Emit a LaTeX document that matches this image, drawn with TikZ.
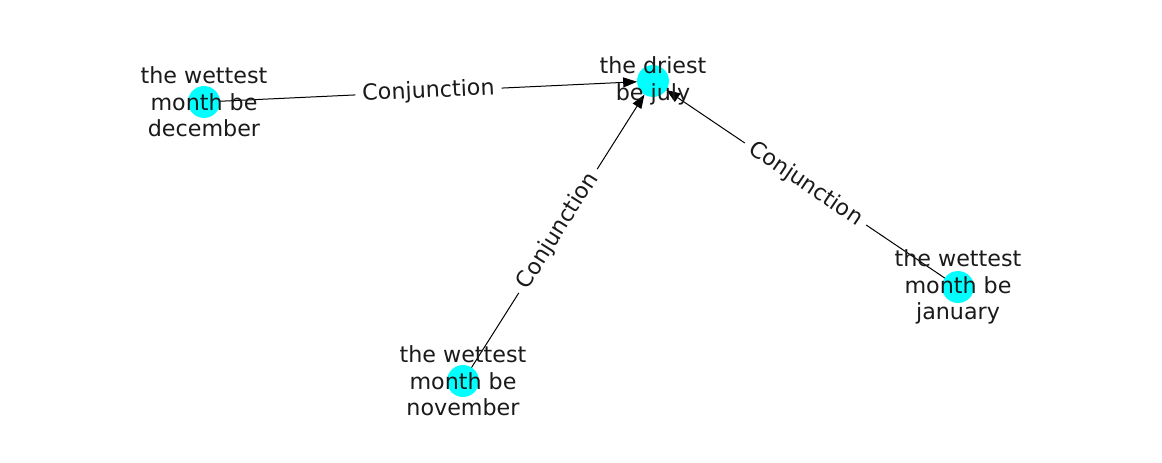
\documentclass[tikz,border=0pt]{standalone}
\usepackage{fontspec}
\setmainfont{DejaVu Sans}
\usetikzlibrary{arrows.meta}
\definecolor{nodecyan}{HTML}{00FFFF}
\definecolor{txt}{HTML}{1A1A1A}
\begin{document}
\begin{tikzpicture}[x=0.72pt,y=-0.72pt,
  dot/.style={circle,fill=nodecyan,draw=none,minimum size=23pt,inner sep=0pt,outer sep=0pt},
  lbl/.style={align=center,text=txt,font=\fontsize{16}{19}\selectfont,inner sep=0pt},
  edge/.style={draw=black,line width=0.72pt,-{Triangle[length=10pt,width=7.2pt]}},
  elabel/.style={midway,sloped,fill=white,text=txt,font=\fontsize{16}{19}\selectfont,inner xsep=5pt,inner ysep=3pt}
]
\useasboundingbox (0,0) rectangle (1162,462);
\node[dot] (dec) at (204,102) {};
\node[dot] (dry) at (653,81) {};
\node[dot] (nov) at (463,381) {};
\node[dot] (jan) at (958,287) {};
\draw[edge] (dec) -- node[elabel] {Conjunction} (dry);
\draw[edge] (nov) -- node[elabel] {Conjunction} (dry);
\draw[edge] (jan) -- node[elabel] {Conjunction} (dry);
\node[lbl] (tdec) at (204,102) {the wettest\\month be\\december};
\node[lbl] (tdry) at (653,81) {the driest\\be july};
\node[lbl] (tnov) at (463,381) {the wettest\\month be\\november};
\node[lbl] (tjan) at (958,287) {the wettest\\month be\\january};
\end{tikzpicture}
\end{document}
